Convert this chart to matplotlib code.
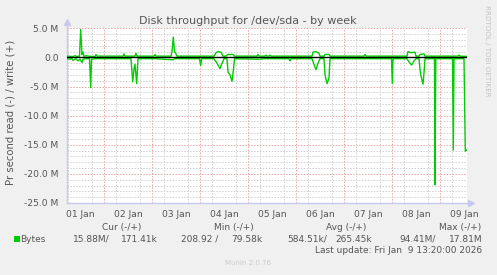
import numpy as np
import matplotlib
matplotlib.use('Agg')
import matplotlib.pyplot as plt

# --- data (hours since 01 Jan 00:00, values in MB/s) ---
read_hours = [5.33, 6.83, 7.83, 8.33, 9.83, 10.83, 11.83, 12.83, 13.33, 14.83,
              16.58, 17.18, 17.58, 19.83, 37.33, 38.18, 38.83, 39.33, 40.18, 40.83,
              49.33, 58.48, 59.08, 71.58, 72.18, 72.58, 78.83, 80.33, 81.83, 82.83,
              83.83, 85.33, 85.83, 86.83, 87.83, 88.58, 89.08, 100.83, 105.0, 116.33,
              116.83, 117.33, 127.83, 128.83, 129.83, 130.83, 131.83, 133.83, 134.33, 135.33,
              136.33, 136.83, 154.33, 167.58, 167.98, 168.33, 175.33, 176.33, 177.68, 178.83,
              179.83, 181.33, 181.83, 182.33, 183.33, 183.98, 184.33, 189.08, 189.33, 189.73,
              198.08, 198.48, 198.83, 203.83, 204.48, 205.33]
read_vals = [0.22, 0.3, 0.22, 0.5, 0.22, 0.6, 0.3, 0.9, 0.3, 0.22,
             0.22, 5.2, 0.3, 0.22, 0.22, 4.2, 2.0, 1.2, 4.5, 0.22,
             0.22, 0.4, 0.22, 0.22, 1.4, 0.22, 0.22, 1.0, 1.9, 1.0,
             0.22, 0.22, 2.5, 3.0, 4.1, 2.0, 0.22, 0.3, 0.22, 0.22,
             0.6, 0.22, 0.22, 1.2, 2.1, 1.0, 0.22, 0.22, 3.0, 4.5,
             3.5, 0.22, 0.22, 0.22, 4.5, 0.22, 0.22, 0.8, 1.3, 0.6,
             0.22, 0.22, 2.0, 3.2, 4.6, 2.0, 0.22, 0.22, 21.9, 0.22,
             0.22, 15.9, 0.22, 0.22, 16.1, 15.88]

write_hours = [5.33, 8.33, 9.33, 10.33, 11.58, 12.18, 12.83, 13.33, 13.83, 14.83,
               15.83, 19.33, 19.83, 20.33, 33.33, 33.83, 34.33, 39.33, 39.83, 40.33,
               48.83, 49.33, 49.83, 57.33, 57.83, 58.48, 59.08, 59.83, 60.33, 78.83,
               79.83, 80.83, 82.33, 83.33, 84.83, 85.58, 88.33, 89.08, 100.33, 100.83,
               101.33, 104.33, 104.83, 105.33, 106.33, 106.83, 107.33, 127.83, 128.33, 129.83,
               131.33, 131.83, 133.83, 134.33, 136.33, 136.83, 153.83, 154.33, 154.83, 175.33,
               175.83, 177.33, 179.33, 179.83, 181.33, 181.83, 183.83, 184.33, 200.83, 201.33,
               201.83, 205.33]
write_vals = [0.22, 0.15, 0.3, 0.15, 0.22, 4.8, 0.5, 0.9, 0.15, 0.3,
              0.22, 0.15, 0.5, 0.22, 0.22, 0.6, 0.22, 0.22, 0.7, 0.22,
              0.22, 0.5, 0.22, 0.22, 1.0, 3.5, 1.0, 0.6, 0.22, 0.22,
              0.8, 1.0, 0.9, 0.22, 0.22, 0.5, 0.5, 0.22, 0.22, 0.5,
              0.22, 0.22, 0.4, 0.22, 0.22, 0.4, 0.22, 0.22, 0.9, 1.0,
              0.7, 0.22, 0.22, 0.5, 0.5, 0.22, 0.22, 0.5, 0.22, 0.22,
              1.0, 0.8, 0.9, 0.22, 0.22, 0.5, 0.6, 0.22, 0.22, 0.4,
              0.22, 0.17]

day_labels = ['01 Jan', '02 Jan', '03 Jan', '04 Jan', '05 Jan', '06 Jan', '07 Jan', '08 Jan', '09 Jan']
y_ticks = [5, 0, -5, -10, -15, -20, -25]
y_labels = ['5.0 M', '0.0', '-5.0 M', '-10.0 M', '-15.0 M', '-20.0 M', '-25.0 M']

legend_cols = ['Cur (-/+)', 'Min (-/+)', 'Avg (-/+)', 'Max (-/+)']
legend_read = ['15.88M/', '208.92 /', '584.51k/', '94.41M/']
legend_write = ['171.41k', '79.58k', '265.45k', '17.81M']

W, H = 497, 275
GREEN = '#00cc00'
TXT = '#555555'
AXC = '#c8c8f0'

plt.rcParams['font.family'] = ['DejaVu Sans']

fig = plt.figure(figsize=(W / 100, H / 100), dpi=100, facecolor='#f0f0f0')


def fx(x):
    return x / W


def fy(y):
    return 1 - y / H


ax = fig.add_axes([fx(67), fy(203), 400 / W, (203 - 28.3) / H])
ax.set_facecolor('white')

t0, t1 = 5.33, 205.33
ax.set_xlim(t0, t1)
ax.set_ylim(-25, 5)

# grid
six_h = [h for h in np.arange(6, t1, 6) if h % 24 != 0]
ax.set_xticks(six_h, minor=True)
ax.set_yticks([v for v in range(-25, 6) if v % 5 != 0], minor=True)
ax.grid(which='minor', color='#d0d0d0', lw=0.7, linestyle=(0, (1.5, 1.5)), zorder=0)
for d in range(1, 9):
    ax.axvline(d * 24, color='#e8a4a4', lw=0.7, linestyle=(0, (1.5, 1.5)), zorder=0.5)
for v in y_ticks[:-1]:
    if v != 0:
        ax.axhline(v, color='#e8a4a4', lw=0.7, linestyle=(0, (1.5, 1.5)), zorder=0.5)

ax.set_xticks([d * 24 + 12 for d in range(9)])
ax.set_xticklabels(day_labels)
ax.set_yticks(y_ticks)
ax.set_yticklabels(y_labels)
ax.tick_params(which='both', length=0, colors=TXT, labelsize=6.6, pad=6)
ax.tick_params(axis='x', pad=5)

for s in ['top', 'right', 'left', 'bottom']:
    ax.spines[s].set_visible(False)

# axes with arrows
ax.plot([0, 0], [0, 1.035], transform=ax.transAxes, color=AXC, lw=1, clip_on=False, zorder=1)
ax.plot([0, 1.01], [0, 0], transform=ax.transAxes, color=AXC, lw=1, clip_on=False, zorder=1)
ax.plot(0, 1.035, marker='^', ms=4, color=AXC, transform=ax.transAxes, clip_on=False)
ax.plot(1.01, 0, marker='>', ms=4, color=AXC, transform=ax.transAxes, clip_on=False)

# series
ax.plot(read_hours, -np.array(read_vals), color=GREEN, lw=1, zorder=2)
ax.plot(write_hours, write_vals, color=GREEN, lw=1, zorder=2)
ax.axhline(0, color='black', lw=1, zorder=3)

# texts
fig.text(fx(248.3), fy(24), 'Disk throughput for /dev/sda - by week', ha='center', va='baseline',
         fontsize=8, color=TXT)
fig.text(fx(11), fy(112), 'Pr second read (-) / write (+)', rotation=90, ha='center', va='center',
         fontsize=7.3, color=TXT)
fig.text(fx(487), fy(51), 'RRDTOOL / TOBI OETIKER', rotation=270, ha='center', va='center',
         fontsize=5.1, color='#c4c4c4')

col_centers = [121.7, 233.5, 346, 459.7]
read_right = [110, 218.3, 327.3, 435.7]
write_right = [157.7, 262.7, 371.7, 482.3]
for c, lab in zip(col_centers, legend_cols):
    fig.text(fx(c), fy(227.3), lab, ha='center', va='center', fontsize=6.5, color=TXT)
for r, v in zip(read_right, legend_read):
    fig.text(fx(r), fy(239), v, ha='right', va='center', fontsize=6.5, color=TXT)
for r, v in zip(write_right, legend_write):
    fig.text(fx(r), fy(239), v, ha='right', va='center', fontsize=6.5, color=TXT)

fig.patches.append(plt.Rectangle((fx(14), fy(242)), 6 / W, 6 / H, transform=fig.transFigure,
                                 facecolor=GREEN, edgecolor='none'))
fig.text(fx(20.5), fy(239), 'Bytes', ha='left', va='center', fontsize=6.5, color=TXT)
fig.text(fx(482.3), fy(250.5), 'Last update: Fri Jan  9 13:20:00 2026', ha='right', va='center',
         fontsize=6.5, color=TXT)
fig.text(fx(271), fy(263), 'Munin 2.0.76', ha='right', va='center', fontsize=5, color='#cccccc')

fig.savefig('out.png', dpi=100, facecolor=fig.get_facecolor())
